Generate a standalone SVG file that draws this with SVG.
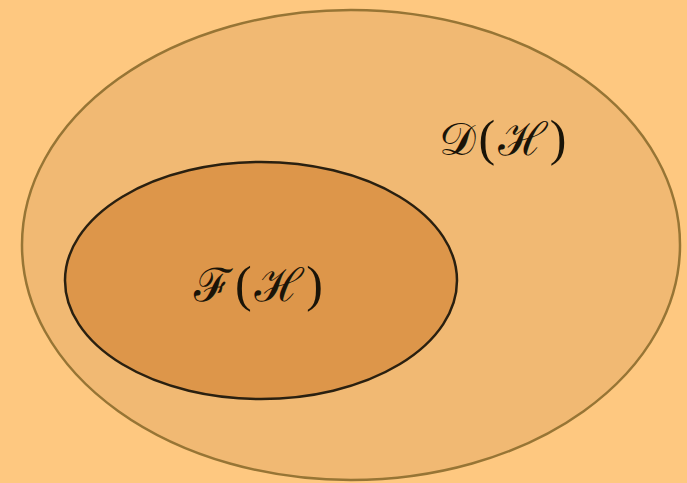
<svg xmlns="http://www.w3.org/2000/svg" width="687" height="483" viewBox="0 0 687 483">
<style>
.lbl{font-family:"DejaVu Serif","Noto Sans","DejaVu Sans",serif;font-size:46px;fill:#1a1408;letter-spacing:3px}
.p{font-family:"Liberation Serif",serif;font-size:50px;font-weight:normal}
</style>
<rect width="687" height="483" fill="#FEC880"/>
<g id="D">
<ellipse cx="351" cy="245" rx="329" ry="235" fill="#F1B973" stroke="#977535" stroke-width="2.5"/>
<text class="lbl" x="504" y="155" text-anchor="middle">𝒟<tspan class="p">(</tspan>ℋ<tspan class="p">)</tspan></text>
</g>
<g id="F">
<ellipse cx="261" cy="280.5" rx="196" ry="118.5" fill="#DD964A" stroke="#2A2010" stroke-width="2.5"/>
<text class="lbl" x="260" y="301" text-anchor="middle">ℱ<tspan class="p">(</tspan>ℋ<tspan class="p">)</tspan></text>
</g>
<g id="connectors"/>
</svg>
